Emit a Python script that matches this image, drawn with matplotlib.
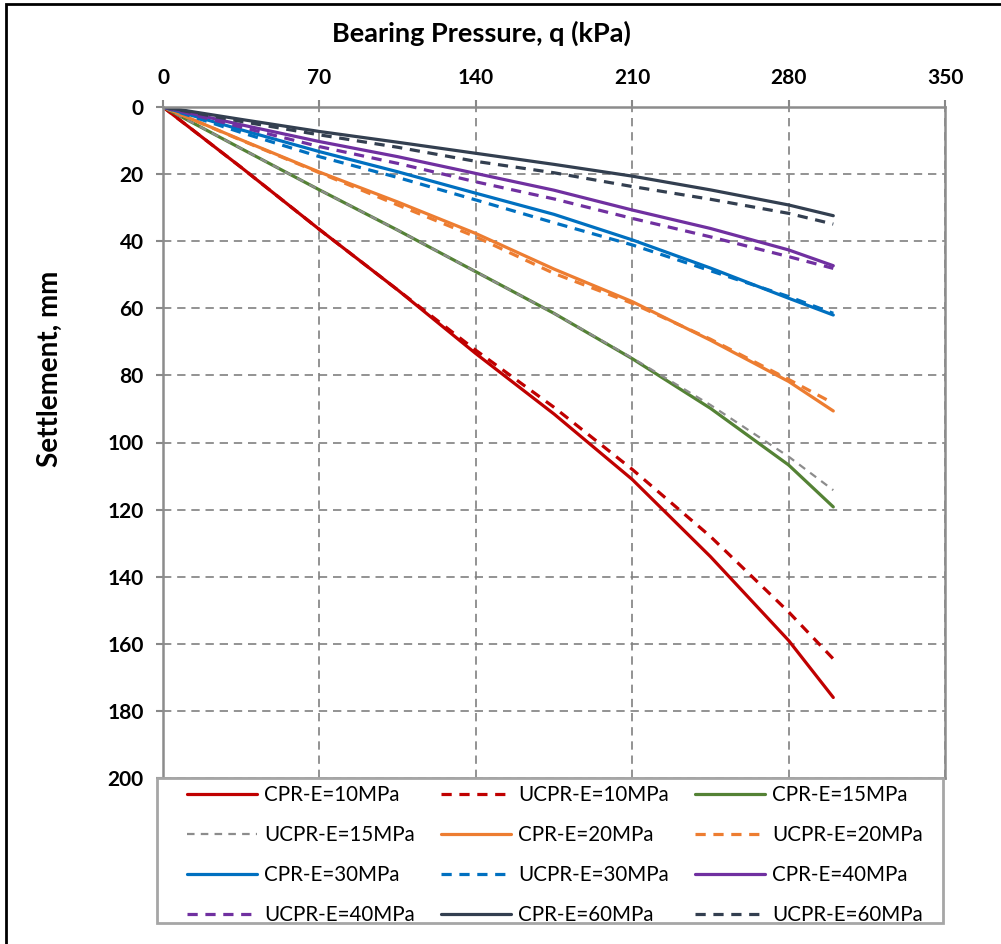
import matplotlib
matplotlib.use("Agg")
import matplotlib.pyplot as plt
from matplotlib.patches import Rectangle

plt.rcParams['font.family'] = ['Lato', 'DejaVu Sans']

# bearing pressure, kPa
q = [0, 35, 70, 105, 140, 175, 210, 245, 280, 300]

# settlement, mm
cpr_10 = [0, 18, 36.5, 54.5, 73.5, 91.5, 111, 134, 159, 176]
ucpr_10 = [0, 18, 36.5, 54.5, 72.5, 89.5, 108, 128, 150.5, 164.5]
cpr_15 = [0, 12.4, 24.7, 36.7, 49.1, 61.5, 75, 89.8, 106.7, 119.2]
ucpr_15 = [0, 12.4, 24.7, 36.7, 49.1, 61.5, 74.8, 88.8, 104.2, 114.2]
cpr_20 = [0, 9.8, 19.4, 28.3, 37.7, 48.3, 58, 69.5, 81.8, 90.6]
ucpr_20 = [0, 9.9, 19.6, 29.2, 38.7, 49.6, 58.5, 69.2, 81.2, 88.3]
cpr_30 = [0, 6.8, 13.3, 19.3, 25.7, 32, 39.6, 48, 57, 62]
ucpr_30 = [0, 7.6, 14.8, 21, 27.7, 34.5, 41.1, 48.8, 56.5, 61.5]
cpr_40 = [0, 5.3, 10.3, 14.8, 19.8, 24.8, 30.7, 36.2, 42.6, 47.3]
ucpr_40 = [0, 6, 11.8, 16.8, 22.3, 27.4, 33.2, 38.7, 44.6, 48.1]
cpr_60 = [0, 3.7, 7.3, 10.5, 13.8, 17.1, 20.6, 24.7, 29.2, 32.4]
ucpr_60 = [0, 4.3, 8.3, 12, 16.2, 19.6, 23.7, 27.5, 31.7, 34.9]

series = [
    ('CPR-E=10MPa', cpr_10, '#C00000', 'solid'),
    ('UCPR-E=10MPa', ucpr_10, '#C00000', 'dash'),
    ('CPR-E=15MPa', cpr_15, '#548235', 'solid'),
    ('UCPR-E=15MPa', ucpr_15, '#8C8C8C', 'thin'),
    ('CPR-E=20MPa', cpr_20, '#ED7D31', 'solid'),
    ('UCPR-E=20MPa', ucpr_20, '#ED7D31', 'dash'),
    ('CPR-E=30MPa', cpr_30, '#0070C0', 'solid'),
    ('UCPR-E=30MPa', ucpr_30, '#0070C0', 'dash'),
    ('CPR-E=40MPa', cpr_40, '#7030A0', 'solid'),
    ('UCPR-E=40MPa', ucpr_40, '#7030A0', 'dash'),
    ('CPR-E=60MPa', cpr_60, '#333F50', 'solid'),
    ('UCPR-E=60MPa', ucpr_60, '#333F50', 'dash'),
]

W, H = 1001, 944
fig = plt.figure(figsize=(W / 100, H / 100), dpi=100)
ax = fig.add_axes([163 / W, 1 - 778 / H, (945 - 163) / W, (778 - 107) / H])

for label, ys, color, style in series:
    if style == 'solid':
        ax.plot(q, ys, color=color, lw=2.3, label=label, solid_capstyle='round')
    elif style == 'dash':
        ax.plot(q, ys, color=color, lw=2.3, label=label, dashes=(3.2, 2.4))
    else:
        ax.plot(q, ys, color=color, lw=1.6, label=label, dashes=(3.4, 2.8))

ax.set_xlim(0, 350)
ax.set_ylim(200, 0)
ax.set_xticks(range(0, 351, 70))
ax.set_yticks(range(0, 201, 20))
ax.xaxis.tick_top()
ax.tick_params(axis='both', direction='out', length=5, width=1.5, color='#888888',
               labelsize=15, pad=9)
for lab in ax.get_xticklabels() + ax.get_yticklabels():
    lab.set_fontweight('bold')
ax.grid(True, color='#808080', lw=1.2, dashes=(5, 3.5))
for s in ax.spines.values():
    s.set_color('#8C8C8C')
    s.set_linewidth(1.8)

fig.text(481 / W, 1 - 33 / H, 'Bearing Pressure, q (kPa)', ha='center', va='center',
         fontsize=19.5, fontweight='bold')
fig.text(50 / W, 1 - 369 / H, 'Settlement, mm', ha='center', va='center',
         rotation=90, fontsize=20, fontweight='bold')

# legend box and entries (row by row, like the original)
fig.patches.append(Rectangle((157 / W, 1 - 923 / H), (943 - 157) / W, (923 - 778) / H,
                             transform=fig.transFigure, facecolor='white',
                             edgecolor='#A6A6A6', lw=2, zorder=5))
h, l = ax.get_legend_handles_labels()
order = [c + 3 * r for c in range(3) for r in range(4)]
leg = fig.legend([h[i] for i in order], [l[i] for i in order], loc='upper left',
                 ncol=3, mode='expand', frameon=False,
                 bbox_to_anchor=(187 / W, 1 - 785 / H, (923 - 187) / W, 0),
                 borderpad=0, borderaxespad=0, fontsize=14.8, handlelength=3.4,
                 handletextpad=0.35, labelspacing=0.98)
leg.set_zorder(6)

# outer frame
fig.patches.append(Rectangle((6 / W, -0.01), 1.02, 1 - 4 / H + 0.01,
                             transform=fig.transFigure, fill=False,
                             edgecolor='black', lw=2))

fig.savefig('out.png', dpi=100)
